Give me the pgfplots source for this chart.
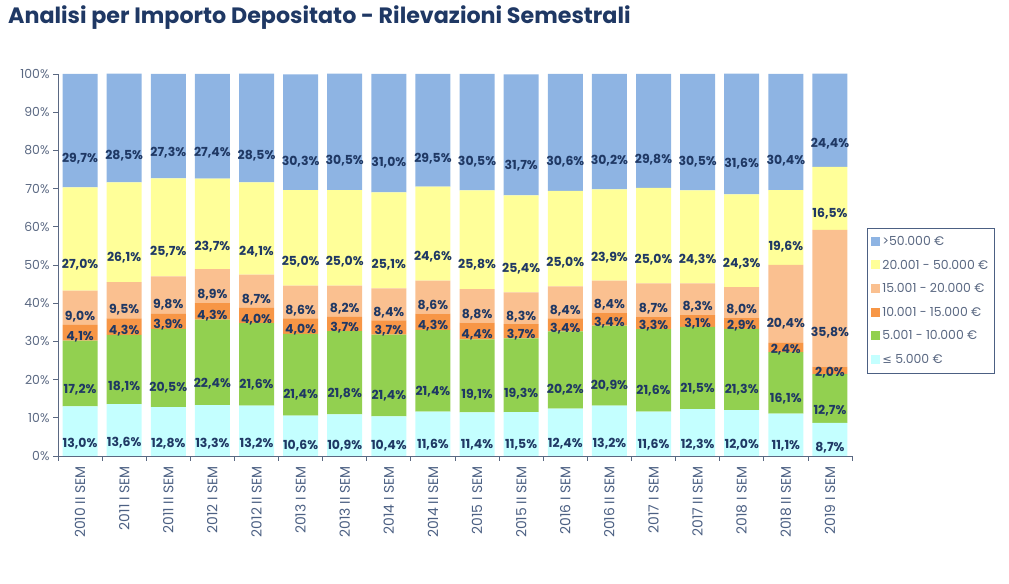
\documentclass[border=0pt]{standalone}
\usepackage{pgfplots}
\pgfplotsset{compat=1.18}
\usepackage{pgfplotstable}
\usepackage{fontspec}
\setmainfont{Poppins}
\newfontfamily\symfont{DejaVu Sans}
\definecolor{navy}{HTML}{1F3864}
\definecolor{axgray}{HTML}{5A6882}
\definecolor{cA}{HTML}{8EB4E3}
\definecolor{cB}{HTML}{FFFF99}
\definecolor{cC}{HTML}{FAC090}
\definecolor{cD}{HTML}{F79646}
\definecolor{cE}{HTML}{92D050}
\definecolor{cF}{HTML}{C4FFFF}
\pgfplotstableread{
x a b c d e f
0 13.0 17.2 4.1 9.0 27.0 29.7
1 13.6 18.1 4.3 9.5 26.1 28.5
2 12.8 20.5 3.9 9.8 25.7 27.3
3 13.3 22.4 4.3 8.9 23.7 27.4
4 13.2 21.6 4.0 8.7 24.1 28.5
5 10.6 21.4 4.0 8.6 25.0 30.3
6 10.9 21.8 3.7 8.2 25.0 30.5
7 10.4 21.4 3.7 8.4 25.1 31.0
8 11.6 21.4 4.3 8.6 24.6 29.5
9 11.4 19.1 4.4 8.8 25.8 30.5
10 11.5 19.3 3.7 8.3 25.4 31.7
11 12.4 20.2 3.4 8.4 25.0 30.6
12 13.2 20.9 3.4 8.4 23.9 30.2
13 11.6 21.6 3.3 8.7 25.0 29.8
14 12.3 21.5 3.1 8.3 24.3 30.5
15 12.0 21.3 2.9 8.0 24.3 31.6
16 11.1 16.1 2.4 20.4 19.6 30.4
17 8.7 12.7 2.0 35.8 16.5 24.4
}\datatable
\pgfplotsset{
  calcoffset/.code={%
    \pgfkeys{/pgf/fpu=true,/pgf/fpu/output format=fixed}%
    \pgfmathsetmacro\labelshift{\pgfplotspointmeta*0.955}%
    \pgfkeys{/pgf/fpu=false}%
  },
  common/.style={
    scale only axis, width=794bp, height=382bp,
    at={(58bp,128bp)}, anchor=south west,
    xmin=-0.5, xmax=17.5, ymin=0, ymax=100,
    ybar stacked, bar width=35bp,
  },
}
\begin{document}
\begin{tikzpicture}[x=1bp,y=1bp]
\useasboundingbox (0,0) rectangle (1009,584);
\node[anchor=west, font=\bfseries\fontsize{22.3}{24}\selectfont, text=navy, inner sep=0] at (8,566) {Analisi per Importo Depositato - Rilevazioni Semestrali};
\begin{axis}[common,
  axis x line*=bottom, axis y line*=left,
  axis line style={axgray, line width=0.8pt},
  tick align=outside,
  xtick={0,...,17}, major x tick style={draw=none},
  minor xtick={-0.5,0.5,...,17.5},
  minor tick length=5bp, major tick length=5bp,
  every tick/.style={axgray, line width=0.8pt},
  xticklabels={2010 II SEM,2011 I SEM,2011 II SEM,2012 I SEM,2012 II SEM,2013 I SEM,2013 II SEM,2014 I SEM,2014 II SEM,2015 I SEM,2015 II SEM,2016 I SEM,2016 II SEM,2017 I SEM,2017 II SEM,2018 I SEM,2018 II SEM,2019 I SEM},
  xticklabel style={rotate=90, anchor=east, font=\fontsize{14}{16}\selectfont, text=navy!80!white, inner sep=0pt},
  x tick label style={xshift=-5bp},
  ytick={0,10,...,100},
  yticklabels={0\%,10\%,20\%,30\%,40\%,50\%,60\%,70\%,80\%,90\%,100\%},
  yticklabel style={font=\fontsize{12.5}{14}\selectfont, text=axgray},
  legend cell align=left,
  legend style={at={(1.019,0.597)}, anchor=north west, draw=navy!80!white, line width=0.7pt,
    font=\fontsize{12.5}{14}\selectfont, text=axgray, row sep=9bp, inner xsep=4bp, inner ysep=6bp},
  legend image code/.code={\fill[#1] (0bp,-4bp) rectangle (9bp,5bp);},
  reverse legend,
]
\addplot[fill=cF, draw=none] table[x=x,y=a]{\datatable};
\addlegendentry{{\symfont\fontsize{11.5}{14}\selectfont≤} 5.000 €}
\addplot[fill=cE, draw=none] table[x=x,y=b]{\datatable};
\addlegendentry{5.001 - 10.000 €}
\addplot[fill=cD, draw=none] table[x=x,y=c]{\datatable};
\addlegendentry{10.001 - 15.000 €}
\addplot[fill=cC, draw=none] table[x=x,y=d]{\datatable};
\addlegendentry{15.001 - 20.000 €}
\addplot[fill=cB, draw=none] table[x=x,y=e]{\datatable};
\addlegendentry{20.001 - 50.000 €}
\addplot[fill=cA, draw=none] table[x=x,y=f]{\datatable};
\addlegendentry{>50.000 €}
\end{axis}
\begin{axis}[common, hide axis, clip=false,
  nodes near coords={\pgfmathprintnumber[fixed,fixed zerofill,precision=1,use comma,assume math mode=true]{\pgfplotspointmeta}\%},
  every node near coord/.style={/pgfplots/calcoffset, anchor=center, yshift=-\labelshift bp,
    font=\bfseries\fontsize{12.5}{14}\selectfont, text=navy, inner sep=0pt},
]
\addplot[draw=none, fill=none] table[x=x,y=a]{\datatable};
\addplot[draw=none, fill=none] table[x=x,y=b]{\datatable};
\addplot[draw=none, fill=none] table[x=x,y=c]{\datatable};
\addplot[draw=none, fill=none] table[x=x,y=d]{\datatable};
\addplot[draw=none, fill=none] table[x=x,y=e]{\datatable};
\addplot[draw=none, fill=none] table[x=x,y=f]{\datatable};
\end{axis}
\end{tikzpicture}
\end{document}
